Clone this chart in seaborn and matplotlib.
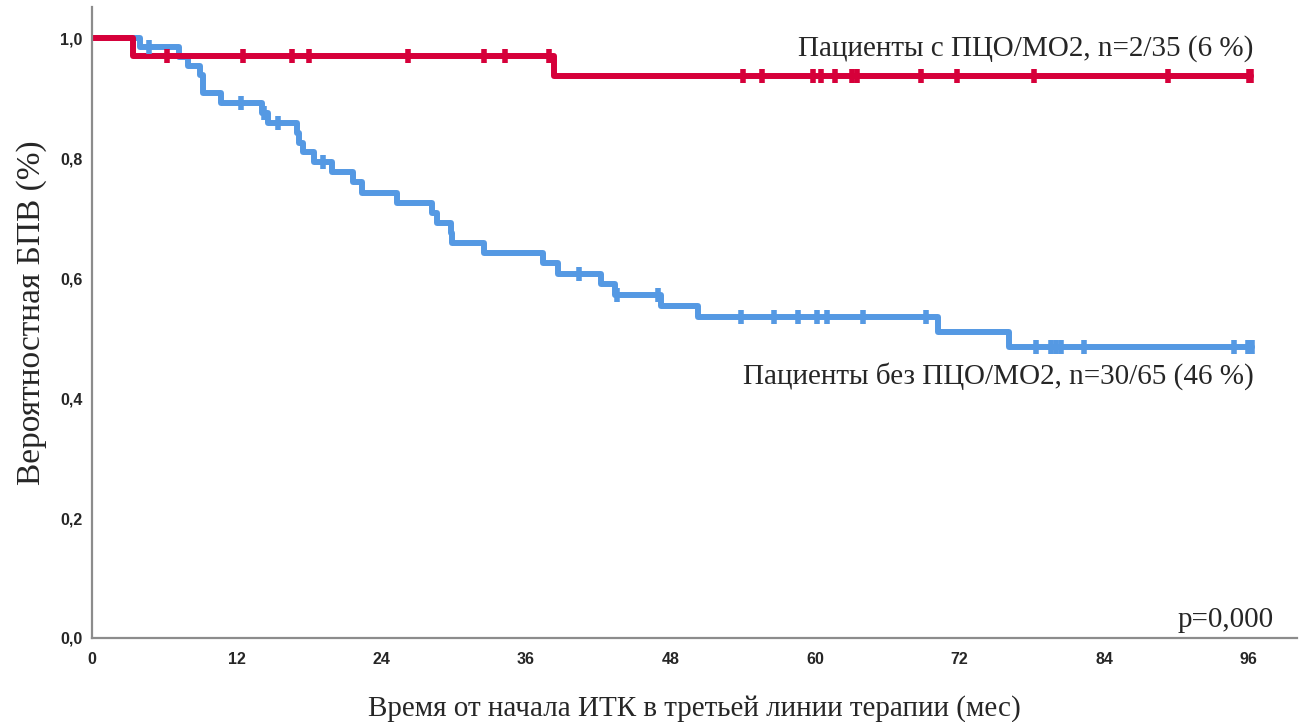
import numpy as np
import pandas as pd
import matplotlib
matplotlib.use("Agg")
import matplotlib.pyplot as plt
import seaborn as sns

# ---- data ----
red_label = "Пациенты с ПЦО/МО2, n=2/35 (6 %)"
blue_label = "Пациенты без ПЦО/МО2, n=30/65 (46 %)"

red_step_t = [0, 3.4, 38.3, 96.2]
red_step_s = [1.0, 0.971, 0.937, 0.937]
red_cens_t = [6.2, 12.5, 16.6, 18.0, 26.2, 32.5, 34.3, 37.9, 54.0, 55.6, 59.8,
              60.5, 61.7, 63.1, 63.5, 68.8, 71.8, 78.2, 89.3, 96.0, 96.2]

blue_step_t = [0, 4.0, 7.2, 8.0, 9.0, 9.2, 10.7, 14.1, 14.6, 17.0, 17.2, 17.5,
               18.4, 19.9, 21.7, 22.4, 25.3, 28.2, 28.6, 29.8, 29.9, 32.5,
               37.4, 38.7, 42.2, 43.4, 47.2, 50.3, 70.2, 76.1, 96.3]
blue_step_s = [1.0, 0.985, 0.969, 0.954, 0.938, 0.908, 0.892, 0.875, 0.858,
               0.842, 0.825, 0.810, 0.793, 0.777, 0.760, 0.742, 0.725, 0.708,
               0.692, 0.675, 0.658, 0.642, 0.625, 0.607, 0.590, 0.572, 0.553,
               0.535, 0.510, 0.485, 0.485]
blue_cens_t = [4.7, 12.4, 14.3, 15.4, 19.2, 40.4, 43.6, 47.0, 53.9, 56.6, 58.6,
               60.2, 61.0, 64.0, 69.2, 78.3, 79.6, 80.0, 80.4, 82.3, 94.8, 95.9, 96.3]

x_ticks = [0, 12, 24, 36, 48, 60, 72, 84, 96]
y_ticks = [0.0, 0.2, 0.4, 0.6, 0.8, 1.0]
x_label = "Время от начала ИТК в третьей линии терапии (мес)"
y_label = "Вероятностная БПВ (%)"
p_text = "p=0,000"

red_col = "#D6003A"
blue_col = "#5599E3"


def step_value(ts, ss, t):
    idx = np.searchsorted(np.asarray(ts), t, side="right") - 1
    return np.asarray(ss)[np.clip(idx, 0, len(ss) - 1)]


steps = pd.concat([
    pd.DataFrame({"t": blue_step_t, "s": blue_step_s, "g": "blue"}),
    pd.DataFrame({"t": red_step_t, "s": red_step_s, "g": "red"}),
])
cens = pd.concat([
    pd.DataFrame({"t": blue_cens_t, "s": step_value(blue_step_t, blue_step_s, blue_cens_t), "g": "blue"}),
    pd.DataFrame({"t": red_cens_t, "s": step_value(red_step_t, red_step_s, red_cens_t), "g": "red"}),
])

sns.set_style("white")
fig = plt.figure(figsize=(13.06, 7.22), dpi=100)
ax = fig.add_axes([92 / 1306, 1 - 638 / 722, (1297 - 92) / 1306, (638 - 7) / 722])

pal = {"blue": blue_col, "red": red_col}
sns.lineplot(data=steps, x="t", y="s", hue="g", hue_order=["blue", "red"],
             palette=pal, drawstyle="steps-post", estimator=None, sort=True,
             linewidth=4.3, legend=False, ax=ax)
sns.scatterplot(data=cens, x="t", y="s", hue="g", hue_order=["blue", "red"],
                palette=pal, marker="|", s=100, linewidth=4.0, legend=False,
                ax=ax, zorder=5)

ax.set_xlim(0, 100)
ax.set_ylim(0, 1.052)
ax.set_xticks(x_ticks)
ax.set_xticklabels([str(v) for v in x_ticks], fontfamily="Liberation Sans",
                   fontweight="bold", fontsize=11.5)
ax.set_yticks(y_ticks)
ax.set_yticklabels([f"{v:.1f}".replace(".", ",") for v in y_ticks],
                   fontfamily="Liberation Sans", fontweight="bold", fontsize=11.5)
ax.tick_params(axis="both", length=0)
ax.tick_params(axis="x", pad=10)
ax.tick_params(axis="y", pad=7)

for side in ["top", "right"]:
    ax.spines[side].set_visible(False)
for side in ["left", "bottom"]:
    ax.spines[side].set_color("#8c8c8c")
    ax.spines[side].set_linewidth(1.6)

serif = "Liberation Serif"
ax.set_xlabel(x_label, fontfamily=serif, fontsize=21, labelpad=20)
ax.set_ylabel(y_label, fontfamily=serif, fontsize=24)
ax.yaxis.set_label_coords(-0.037, 0.515)

ax.text(96.4, 0.983, red_label, ha="right", va="center", fontfamily=serif, fontsize=21)
ax.text(96.4, 0.437, blue_label, ha="right", va="center", fontfamily=serif, fontsize=21)
ax.text(98.1, 0.03, p_text, ha="right", va="center", fontfamily=serif, fontsize=21)

fig.savefig("out.png", dpi=100)
